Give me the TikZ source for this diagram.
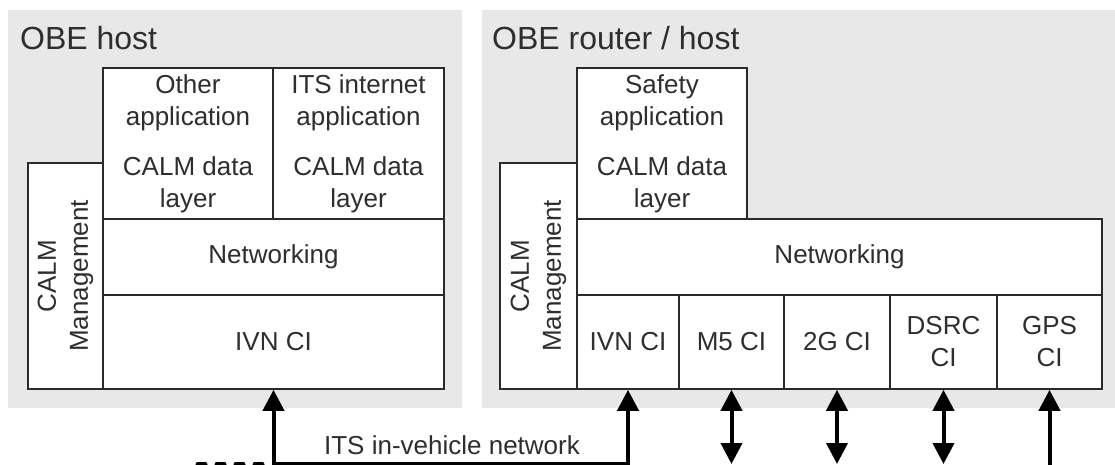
\documentclass[tikz,border=0pt]{standalone}
\usepackage{fontspec}
\setmainfont{Liberation Sans}
\usetikzlibrary{arrows.meta}
\definecolor{panelgrey}{HTML}{E8E8E8}
\definecolor{linegrey}{HTML}{2A2A2A}
\definecolor{textgrey}{HTML}{2E2E2E}
\begin{document}
\begin{tikzpicture}[x=1pt,y=-1pt,
  layerbox/.style={draw=linegrey, fill=white, line width=1.6pt, inner sep=0pt,
    align=center, text=textgrey, font=\fontsize{26}{32}\selectfont},
  paneltitle/.style={anchor=base west, inner sep=0pt, text=textgrey,
    font=\fontsize{32}{36}\selectfont},
  netlabel/.style={anchor=base, inner sep=0pt, text=textgrey,
    font=\fontsize{26}{32}\selectfont},
  uplink/.style={line width=4pt, draw=black, -{Triangle[length=21pt,width=21pt]}},
  duplex/.style={line width=4pt, draw=black,
    {Triangle[length=21pt,width=21pt]}-{Triangle[length=21pt,width=21pt]}},
  busdash/.style={line width=5pt, draw=black, line cap=round, dash pattern=on 7pt off 12pt}
]
\useasboundingbox (0,0) rectangle (1115,465);

% panels
\fill[panelgrey] (8,10) rectangle (462,408);
\fill[panelgrey] (482,10) rectangle (1115,408);

\node[paneltitle] (lt) at (20,50) {OBE host};
\node[paneltitle] (rt) at (492,50) {OBE router / host};

% left stack
\node[layerbox, minimum width=226pt, minimum height=75pt, rotate=90] (lmgmt) at (65.5,276) {CALM\\Management};
\node[layerbox, minimum width=170pt, minimum height=151pt] (lother) at (188,143.5) {Other\\application\\[18pt]CALM data\\layer};
\node[layerbox, minimum width=171pt, minimum height=151pt] (lits) at (358.5,143.5) {ITS internet\\application\\[18pt]CALM data\\layer};
\node[layerbox, minimum width=341pt, minimum height=76pt] (lnet) at (273.5,257) {Networking};
\node[layerbox, minimum width=341pt, minimum height=94pt] (livn) at (273.5,342) {IVN CI};

% right stack
\node[layerbox, minimum width=226pt, minimum height=77pt, rotate=90] (rmgmt) at (538.5,276) {CALM\\Management};
\node[layerbox, minimum width=170pt, minimum height=151pt] (rsafe) at (662,143.5) {Safety\\application\\[18pt]CALM data\\layer};
\node[layerbox, minimum width=525pt, minimum height=76pt] (rnet) at (839.5,257) {Networking};
\node[layerbox, minimum width=102pt, minimum height=94pt] (rivn) at (628,342) {IVN CI};
\node[layerbox, minimum width=105pt, minimum height=94pt] (rm5) at (731.5,342) {M5 CI};
\node[layerbox, minimum width=106pt, minimum height=94pt] (r2g) at (837,342) {2G CI};
\node[layerbox, minimum width=107pt, minimum height=94pt] (rdsrc) at (943.5,342) {DSRC\\CI};
\node[layerbox, minimum width=105pt, minimum height=94pt] (rgps) at (1049.5,342) {GPS\\CI};

% in-vehicle network
\coordinate (busl) at (273.5,464);
\coordinate (busr) at (628,464);
\coordinate (busend) at (198,464);
\draw[duplex] (livn.south) -- (busl) -- (busr) -- (rivn.south);
\draw[busdash] (busend) -- (busl);
\node[netlabel] (itsnet) at (452,454) {ITS in-vehicle network};

% radio links
\coordinate (m5e) at (731.5,464);
\coordinate (g2e) at (837,464);
\coordinate (dsrce) at (943.5,464);
\coordinate (gpse) at (1049.5,472);
\draw[duplex] (rm5.south) -- (m5e);
\draw[duplex] (r2g.south) -- (g2e);
\draw[duplex] (rdsrc.south) -- (dsrce);
\draw[uplink] (gpse) -- (rgps.south);
\end{tikzpicture}
\end{document}
